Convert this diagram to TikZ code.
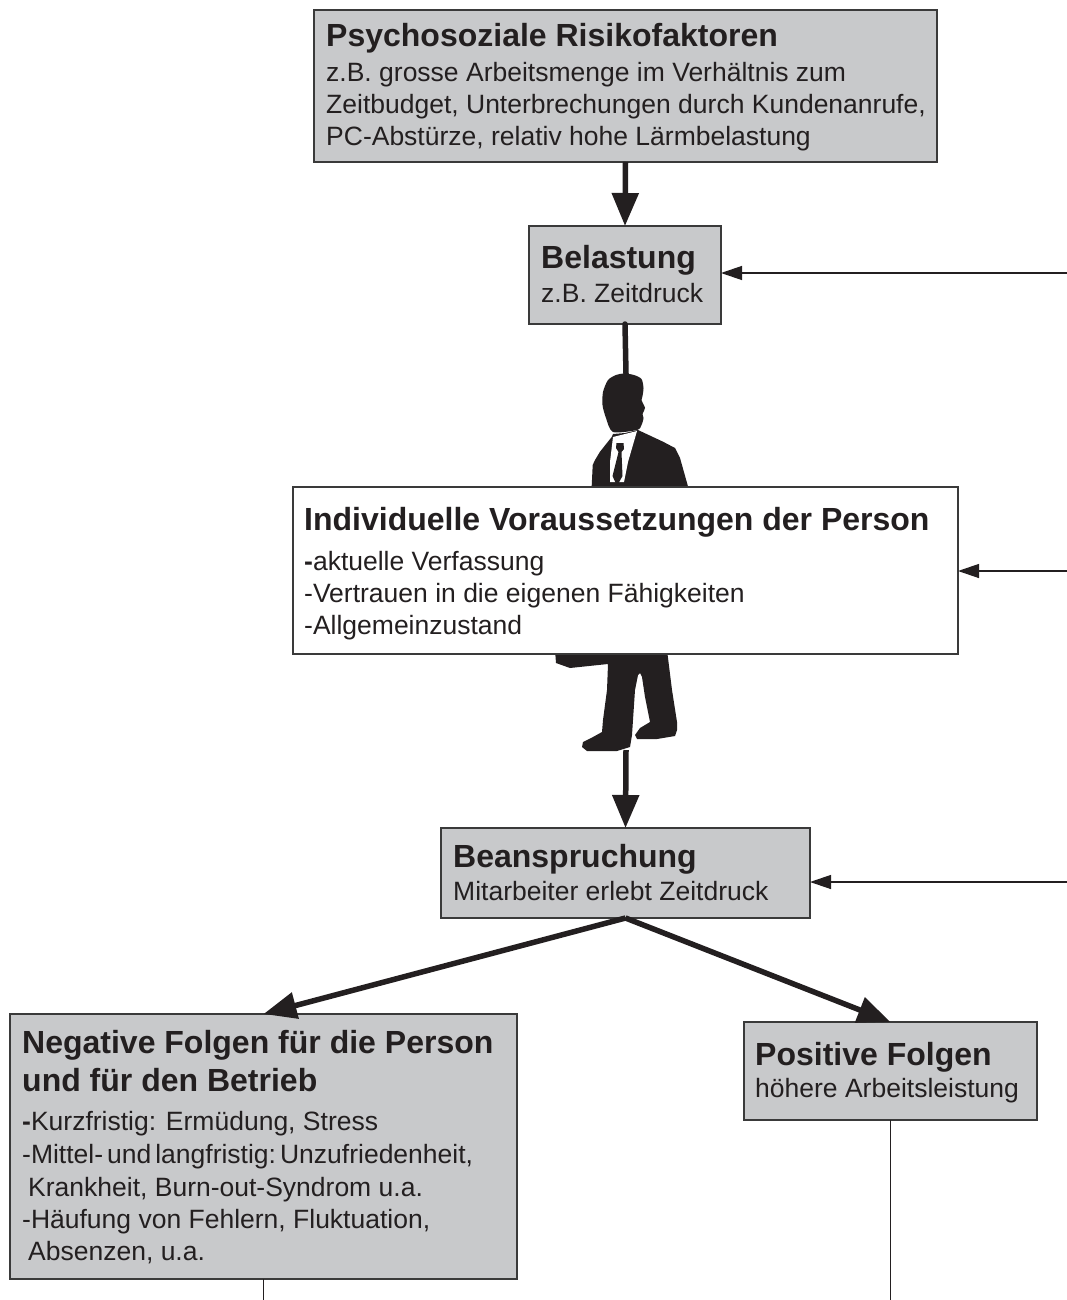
\documentclass[tikz,border=0pt]{standalone}
\usepackage{fontspec}
\setmainfont{Liberation Sans}
\usetikzlibrary{arrows.meta}
\definecolor{boxgray}{HTML}{C8C9CB}
\definecolor{ink}{HTML}{231F20}
\definecolor{edgegray}{HTML}{3A3A3A}
\begin{document}
\begin{tikzpicture}[x=1pt,y=-1pt,
  box/.style={draw=edgegray, line width=1.3pt, fill=boxgray, anchor=north west, inner sep=0pt, outer sep=0pt},
  wbox/.style={box, fill=white},
  ttl/.style={anchor=base west, inner sep=0pt, text=ink, font=\fontsize{32}{38}\selectfont\bfseries},
  txt/.style={anchor=base west, inner sep=0pt, text=ink, font=\fontsize{26.5}{32}\selectfont},
  bigarrow/.style={draw=ink, line width=5.5pt, -{Triangle[length=33pt,width=26pt]}},
  smallarrow/.style={draw=ink, line width=1.3pt, -{Triangle[length=21pt,width=14pt]}},
  thinline/.style={draw=ink, line width=1.3pt},
  figure/.style={fill=ink, draw=none}
]
\useasboundingbox (0,0) rectangle (1067,1300);

% ---- person silhouette (behind the white box) ----
\fill[figure] plot[smooth cycle, tension=0.45] coordinates {(613,432) (606,418) (602.5,405) (603,392) (608,380) (616,375) (624,373.5) (634,375) (641.5,379) (643.5,388) (642.5,396) (641.5,400) (645,408) (642.5,414) (643.5,418) (641.5,425) (637,430)};
\fill[figure] (613,434) -- (611.7,437) -- (600,451.7) -- (595,460) -- (592.7,465) -- (591.5,490) -- (689,490) -- (680,458) -- (675,448) -- (663,441.7) -- (638,430) -- (625,433) -- cycle;
\fill[white] (613,437) -- (637,431) -- (628,462) -- (624,482) -- (610,482) -- (610,462) -- cycle;
\fill[figure] (616.5,443) -- (623.5,443) -- (624,449) -- (621.5,452) -- (622.5,476) -- (617,486) -- (612.5,476) -- (618.5,452) -- (616,448) -- cycle;
\fill[figure] (555,650) -- (556,663) -- (570,668) -- (608,664) -- (607,690) -- (603,720) -- (602,732) -- (593,737) -- (583,742) -- (582,747) -- (587,751) -- (617,751) -- (630,747) -- (632,735) -- (635,690) -- (638,675) -- (640,673) -- (642,677) -- (645,697) -- (650,722) -- (640,728) -- (635,735) -- (637,739) -- (657,739) -- (675,736) -- (677,730) -- (677,722) -- (672,690) -- (667,650) -- cycle;

% ---- boxes ----
\node[box, minimum width=623pt, minimum height=152pt] (risk) at (314,10) {};
\node[box, minimum width=192pt, minimum height=98pt] (bel) at (529,226) {};
\node[wbox, minimum width=665pt, minimum height=167pt] (ind) at (293,487) {};
\node[box, minimum width=369pt, minimum height=90pt] (bean) at (441,828) {};
\node[box, minimum width=507pt, minimum height=265pt] (neg) at (10,1014) {};
\node[box, minimum width=293pt, minimum height=98pt] (pos) at (744,1022) {};

% ---- texts ----
\node[ttl] (riskT) at (326,47) {Psychosoziale Risikofaktoren};
\node[txt] (riskA) at (326,82) {z.B. grosse Arbeitsmenge im Verhältnis zum};
\node[txt] (riskB) at (326,114) {Zeitbudget, Unterbrechungen durch Kundenanrufe,};
\node[txt] (riskC) at (326,146) {PC-Abstürze, relativ hohe Lärmbelastung};

\node[ttl] (belT) at (541,268) {Belastung};
\node[txt] (belA) at (541,302) {z.B. Zeitdruck};

\node[ttl] (indT) at (304,530) {Individuelle Voraussetzungen der Person};
\node[txt] (indA) at (304,570) {{\bfseries -}aktuelle Verfassung};
\node[txt] (indB) at (304,602) {-Vertrauen in die eigenen Fähigkeiten};
\node[txt] (indC) at (304,634) {-Allgemeinzustand};

\node[ttl] (beanT) at (453,867) {Beanspruchung};
\node[txt] (beanA) at (453,900) {Mitarbeiter erlebt Zeitdruck};

\node[ttl] (negT) at (22,1053) {Negative Folgen für die Person};
\node[ttl] (negU) at (22,1091) {und für den Betrieb};
\node[txt] (negA) at (22,1130) {{\bfseries -}Kurzfristig: Ermüdung, Stress};
\node[txt] (negB) at (22,1163) {-Mittel-\hspace{4pt}und\hspace{4pt}langfristig:\hspace{4pt}Unzufriedenheit,};
\node[txt] (negC) at (28,1196) {Krankheit, Burn-out-Syndrom u.a.};
\node[txt] (negD) at (22,1228) {-Häufung von Fehlern, Fluktuation,};
\node[txt] (negE) at (28,1260) {Absenzen, u.a.};

\node[ttl] (posT) at (755,1065) {Positive Folgen};
\node[txt] (posA) at (755,1097) {höhere Arbeitsleistung};

% ---- connectors ----
\coordinate (head) at (626,374);
\coordinate (feet) at (626,750);
\coordinate (inBel) at (1067,273);
\coordinate (inInd) at (1067,571);
\coordinate (inBean) at (1067,882);
\coordinate (endNeg) at (263.5,1300);
\coordinate (endPos) at (890.5,1300);

\draw[bigarrow] (risk.south) -- (bel.north);
\draw[draw=ink, line width=5.5pt, line cap=round] (bel.south) -- (head);
\draw[bigarrow] (feet) -- (bean.north);
\draw[bigarrow] (bean.south) -- (neg.north);
\draw[bigarrow] (bean.south) -- (pos.north);
\draw[smallarrow] (inBel) -- (inBel -| bel.east);
\draw[smallarrow] (inInd) -- (inInd -| ind.east);
\draw[smallarrow] (inBean) -- (inBean -| bean.east);
\draw[thinline] (neg.south) -- (endNeg);
\draw[thinline] (pos.south) -- (endPos);
\end{tikzpicture}
\end{document}
